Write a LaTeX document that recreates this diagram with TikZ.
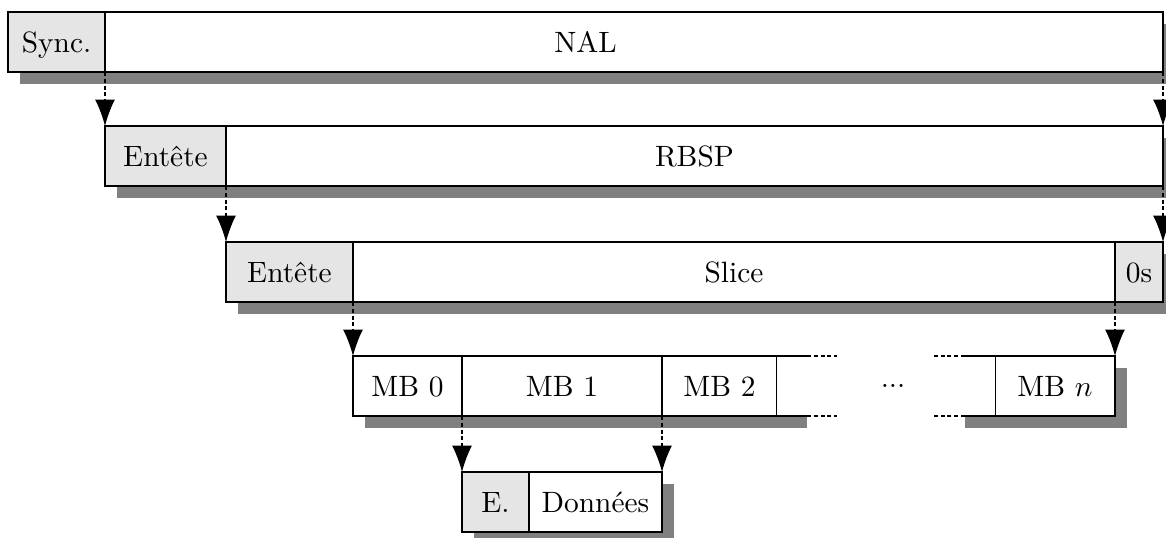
\documentclass[tikz,border=0pt]{standalone}
\usetikzlibrary{arrows.meta}
\begin{document}
\begin{tikzpicture}[x=0.34pt,y=-0.34pt,
  cell/.style={draw,fill=white,inner sep=0pt,outer sep=0pt,anchor=north west,
    minimum height=60*0.34pt,text height=6.8pt,text depth=0pt},
  head/.style={cell,fill=gray!20},
  wd/.style={minimum width=#1*0.34pt},
  shade/.style={fill=black!50},
  gap/.style={dash pattern=on 1.4pt off 0.9pt},
  link/.style={gap,-{Latex[length=9pt,width=6.8pt]}}]
\useasboundingbox (0,0) rectangle (1166,537);
\clip (0,0) rectangle (1166,537);

% drop shadows behind each layer
\fill[shade] (20,24) rectangle (1175,84);
\fill[shade] (117,138) rectangle (1175,198);
\fill[shade] (238,254) rectangle (1175,314);
\fill[shade] (365,368) rectangle (807,428);
\fill[shade] (965,368) rectangle (1127,428);
\fill[shade] (474,484) rectangle (674,544);

% NAL unit (the sync field is laid over its left end)
\node[cell,wd=1155] (nal) at (8,12) {NAL};
\node[head,wd=97] (sync) at (8,12) {Sync.};

% RBSP
\node[head,wd=121] (hdr1) at (105,126) {Entête};
\node[cell,wd=937] (rbsp) at (226,126) {RBSP};

% slice
\node[head,wd=127] (hdr2) at (226,242) {Entête};
\node[cell,wd=762] (slice) at (353,242) {Slice};
\node[head,wd=48] (zeros) at (1115,242) {0s};

% macroblocks
\node[cell,wd=109] (mb0) at (353,356) {MB 0};
\node[cell,wd=200] (mb1) at (462,356) {MB 1};
\node[cell,wd=115] (mb2) at (662,356) {MB 2};
\node[cell,wd=120] (mbn) at (995,356) {MB $n$};
\node (dots) at (893,386) {...};

% open ends of the macroblock row
\coordinate (lt1) at (807,356);
\coordinate (lb1) at (807,416);
\coordinate (lt2) at (837,356);
\coordinate (lb2) at (837,416);
\coordinate (rt1) at (965,356);
\coordinate (rb1) at (965,416);
\coordinate (rt2) at (933,356);
\coordinate (rb2) at (933,416);
\fill[white] (mb2.north east) rectangle (lb1);
\fill[white] (rt1) rectangle (mbn.south west);
\draw (mb2.north east) -- (lt1);
\draw (mb2.south east) -- (lb1);
\draw[gap] (lt1) -- (lt2);
\draw[gap] (lb1) -- (lb2);
\draw (mbn.north west) -- (rt1);
\draw (mbn.south west) -- (rb1);
\draw[gap] (rt1) -- (rt2);
\draw[gap] (rb1) -- (rb2);

% macroblock content
\node[head,wd=67] (mbh) at (462,472) {E.};
\node[cell,wd=133] (data) at (529,472) {Données};

% expansion arrows
\draw[link] (sync.south east) -- (hdr1.north west);
\draw[link] (nal.south east) -- (rbsp.north east);
\draw[link] (hdr1.south east) -- (hdr2.north west);
\draw[link] (rbsp.south east) -- (zeros.north east);
\draw[link] (hdr2.south east) -- (mb0.north west);
\draw[link] (zeros.south west) -- (mbn.north east);
\draw[link] (mb0.south east) -- (mbh.north west);
\draw[link] (mb1.south east) -- (data.north east);
\end{tikzpicture}
\end{document}
